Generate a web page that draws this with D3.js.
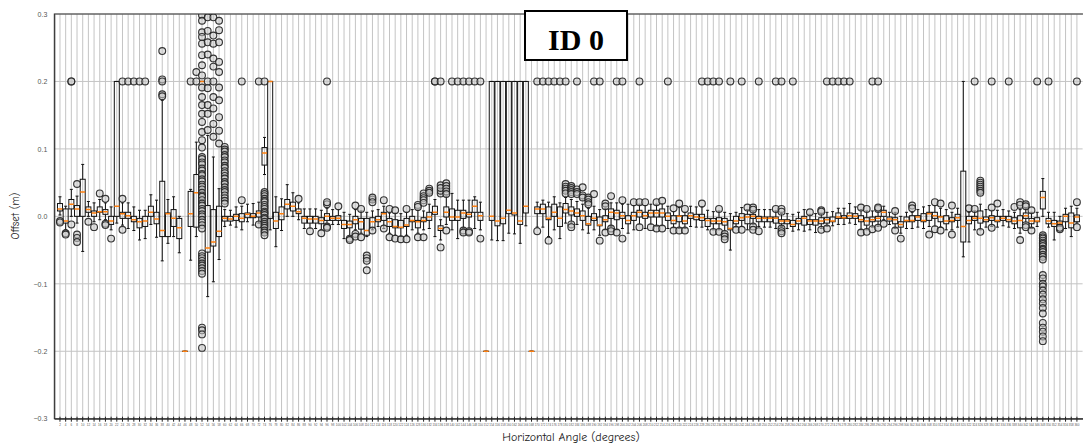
<!DOCTYPE html>
<html>
<head>
<meta charset="utf-8">
<script src="https://cdn.jsdelivr.net/npm/d3@7"></script>
<style>
  body { margin: 0; background: #fff; }
  svg { display: block; }
</style>
</head>
<body>
<svg id="chart" width="1083" height="444"></svg>
<script>
// Horizontal angle bins (degrees)
const angles = d3.range(2, 362, 2);

// Box statistics per angle bin (metres)
const whiskerLow = [
  0.002,-0.02,0.0,-0.01,-0.052,0.0,-0.008,-0.005,-0.005,-0.02,
  -0.01,-0.013,-0.018,-0.021,-0.035,-0.033,-0.012,-0.031,-0.066,-0.04,
  -0.03,-0.054,-0.2,-0.065,-0.03,0.2,-0.119,-0.097,-0.064,-0.015,
  -0.013,-0.016,-0.02,-0.008,-0.013,-0.01,0.062,-0.02,-0.045,-0.021,
  0.0,0.0,-0.005,-0.018,-0.018,-0.018,-0.02,-0.012,-0.012,-0.012,
  -0.033,-0.03,-0.02,-0.025,-0.03,-0.02,-0.015,-0.018,-0.025,-0.028,
  -0.03,-0.028,-0.02,-0.025,-0.02,-0.018,-0.03,-0.035,-0.012,-0.02,
  -0.033,-0.018,-0.02,-0.018,-0.02,-0.2,-0.035,-0.036,-0.036,-0.025,
  -0.026,-0.04,-0.014,-0.2,-0.016,-0.016,-0.03,-0.02,-0.033,-0.01,
  -0.01,-0.012,-0.02,-0.025,-0.02,-0.028,-0.02,-0.015,-0.02,-0.018,
  -0.025,-0.02,-0.012,-0.018,-0.012,-0.015,-0.014,-0.018,-0.017,-0.018,
  -0.018,-0.015,-0.016,-0.016,-0.02,-0.02,-0.02,-0.022,-0.05,-0.016,
  -0.015,-0.02,-0.012,-0.015,-0.016,-0.016,-0.018,-0.015,-0.018,-0.022,
  -0.02,-0.022,-0.02,-0.024,-0.018,-0.015,-0.014,-0.012,-0.012,-0.01,
  -0.012,-0.02,-0.02,-0.016,-0.015,-0.005,-0.012,-0.018,-0.025,-0.018,
  -0.018,-0.016,-0.018,-0.015,-0.015,-0.016,-0.02,-0.02,-0.016,-0.06,
  -0.038,-0.02,-0.02,-0.016,-0.015,-0.016,-0.014,-0.016,-0.018,-0.025,
  -0.01,-0.018,-0.015,0.0,-0.016,-0.035,-0.015,-0.018,-0.03,-0.01
];
const quartile1 = [
  0.008,-0.01,0.011,0.0,0.0,0.006,0.0,0.006,0.003,-0.012,
  0.0,-0.003,-0.003,-0.008,-0.017,-0.015,0.0,-0.011,-0.03,-0.03,
  -0.015,-0.033,-0.2,-0.015,-0.016,0.2,-0.053,-0.044,-0.03,-0.007,
  -0.007,-0.006,-0.008,-0.002,-0.002,-0.001,0.076,-0.003,-0.018,-0.005,
  0.011,0.008,0.004,-0.01,-0.01,-0.01,-0.011,-0.006,-0.006,-0.006,
  -0.018,-0.017,-0.011,-0.019,-0.028,-0.017,-0.008,-0.006,-0.015,-0.017,
  -0.017,-0.015,-0.008,-0.017,-0.008,-0.006,0.003,-0.021,-0.001,-0.006,
  -0.006,-0.003,-0.001,0.006,-0.006,-0.2,-0.006,-0.014,-0.011,0.004,
  0.002,-0.012,0.005,-0.2,0.004,0.004,-0.005,0.0,-0.015,0.005,
  0.002,0.0,-0.006,-0.013,-0.006,-0.014,-0.008,-0.003,-0.005,-0.003,
  -0.011,-0.006,-0.001,-0.003,-0.001,-0.001,-0.001,-0.006,-0.011,-0.008,
  -0.011,-0.003,-0.005,-0.006,-0.015,-0.011,-0.011,-0.013,-0.02,-0.011,
  -0.006,-0.011,-0.003,-0.008,-0.008,-0.008,-0.01,-0.011,-0.011,-0.015,
  -0.011,-0.013,-0.012,-0.013,-0.011,-0.01,-0.008,-0.003,-0.003,-0.003,
  -0.003,-0.008,-0.013,-0.008,-0.007,0.0,-0.007,-0.011,-0.016,-0.008,
  -0.008,-0.006,-0.008,-0.006,-0.003,-0.008,-0.011,-0.008,-0.006,-0.038,
  -0.011,-0.006,-0.01,-0.008,-0.006,-0.008,-0.006,-0.008,-0.011,-0.017,
  -0.003,-0.011,-0.008,0.011,-0.011,-0.015,-0.012,-0.008,-0.017,-0.008
];
const medians = [
  0.011,-0.007,0.018,0.011,0.036,0.01,0.005,0.007,0.007,-0.007,
  0.015,0.004,0.001,-0.005,-0.008,-0.007,0.006,-0.004,-0.021,0.004,
  -0.003,-0.017,-0.2,0.004,0.035,0.2,-0.047,-0.038,-0.022,-0.003,
  -0.004,0.0,-0.003,0.003,0.0,0.005,0.094,0.2,-0.007,0.004,
  0.018,0.015,0.007,-0.003,-0.004,-0.004,-0.006,0.0,-0.003,-0.003,
  -0.012,-0.012,-0.005,-0.008,-0.021,-0.008,-0.005,0.004,-0.008,-0.015,
  -0.016,-0.013,-0.006,-0.008,-0.006,-0.001,0.006,-0.018,0.006,-0.001,
  -0.001,0.005,0.003,0.015,0.001,-0.2,0.0,-0.007,-0.003,0.009,
  0.005,-0.007,0.015,-0.2,0.011,0.011,-0.003,0.006,-0.003,0.01,
  0.008,0.005,0.001,-0.011,-0.003,-0.013,-0.005,0.006,0.005,0.001,
  -0.006,0.001,0.006,0.001,0.005,0.005,0.005,0.0,-0.006,0.0,
  -0.007,0.001,-0.001,-0.002,-0.006,-0.007,-0.007,-0.008,-0.018,-0.007,
  -0.002,-0.001,0.0,-0.003,-0.003,-0.003,-0.003,-0.007,-0.007,-0.012,
  -0.007,-0.003,-0.007,-0.007,-0.007,-0.005,-0.007,-0.001,-0.002,0.001,
  0.0,-0.005,-0.007,-0.005,-0.003,0.006,-0.004,-0.005,-0.012,-0.006,
  -0.006,-0.001,-0.006,0.004,0.001,-0.001,-0.007,-0.006,-0.002,-0.015,
  -0.006,-0.003,-0.003,-0.005,-0.002,-0.006,-0.003,-0.005,-0.007,-0.006,
  0.001,-0.007,-0.007,0.028,-0.007,-0.011,-0.01,0.0,-0.01,-0.001
];
const quartile3 = [
  0.019,0.011,0.025,0.016,0.055,0.014,0.008,0.014,0.01,0.0,
  0.2,0.006,0.006,0.0,-0.003,0.0,0.015,0.006,0.052,0.005,
  0.01,-0.003,-0.2,0.037,0.062,0.2,0.016,0.01,0.015,0.0,
  0.0,0.003,0.004,0.005,0.004,0.008,0.102,0.2,0.006,0.014,
  0.025,0.021,0.011,0.0,0.0,0.0,-0.002,0.004,0.0,0.001,
  -0.006,-0.007,0.0,-0.003,-0.003,-0.002,0.0,0.006,-0.003,-0.005,
  -0.006,-0.003,0.0,-0.006,-0.002,0.006,0.015,-0.014,0.014,0.011,
  0.009,0.009,0.006,0.024,0.006,-0.2,0.2,0.2,0.2,0.2,
  0.2,0.2,0.2,-0.2,0.014,0.018,0.014,0.018,0.014,0.019,
  0.014,0.011,0.008,0.0,0.004,-0.001,0.001,0.011,0.009,0.006,
  0.001,0.006,0.009,0.006,0.009,0.009,0.011,0.005,0.001,0.001,
  0.001,0.005,0.003,0.003,-0.003,-0.003,-0.002,-0.003,-0.006,0.0,
  0.004,0.003,0.003,0.0,-0.001,-0.001,-0.001,-0.005,-0.005,-0.006,
  -0.003,0.0,-0.005,-0.005,-0.002,-0.002,-0.001,0.005,0.001,0.005,
  0.004,0.001,-0.002,-0.001,0.0,0.009,-0.001,-0.002,-0.008,-0.001,
  0.001,0.001,0.004,0.006,0.006,0.0,0.001,-0.002,0.003,0.067,
  0.0,0.0,0.008,-0.001,0.001,0.0,0.0,0.0,-0.002,0.001,
  0.005,-0.003,-0.002,0.037,-0.003,-0.006,-0.007,0.003,0.005,0.002
];
const whiskerHigh = [
  0.029,0.015,0.04,0.03,0.077,0.022,0.02,0.025,0.02,0.014,
  0.2,0.02,0.02,0.014,0.009,0.009,0.032,0.024,0.172,0.025,
  0.029,0.0,-0.2,0.04,0.11,0.2,0.12,0.088,0.041,0.01,
  0.009,0.014,0.015,0.018,0.019,0.021,0.117,0.2,0.029,0.026,
  0.047,0.035,0.02,0.011,0.011,0.011,0.009,0.012,0.01,0.01,
  0.006,0.003,0.01,0.008,0.006,0.008,0.01,0.015,0.005,0.005,
  0.004,0.006,0.01,0.009,0.008,0.018,0.025,-0.005,0.03,0.034,
  0.024,0.024,0.024,0.029,0.021,-0.2,0.2,0.2,0.2,0.2,
  0.2,0.2,0.2,-0.2,0.021,0.024,0.021,0.029,0.02,0.028,
  0.025,0.022,0.018,0.012,0.015,0.01,0.012,0.02,0.02,0.018,
  0.018,0.016,0.018,0.016,0.018,0.018,0.019,0.015,0.007,0.013,
  0.006,0.015,0.014,0.014,0.009,0.007,0.008,0.006,0.004,0.006,
  0.013,0.01,0.008,0.01,0.01,0.01,0.008,0.004,0.004,0.003,
  0.006,0.01,0.003,0.004,0.005,0.006,0.007,0.012,0.012,0.019,
  0.014,0.01,0.008,0.008,0.008,0.015,0.006,0.006,0.0,0.006,
  0.006,0.01,0.014,0.016,0.016,0.012,0.01,0.006,0.012,0.2,
  0.006,0.008,0.018,0.01,0.009,0.009,0.01,0.008,0.006,0.01,
  0.012,0.006,0.006,0.056,0.006,0.006,0.0,0.012,0.015,0.012
];

// Readings beyond the whiskers, by angle bin
const outliers = {
  2: [-0.007,-0.009], 4: [-0.025,-0.027], 6: [0.2,0.2,-0.012],
  8: [0.048,-0.027,-0.032,-0.038], 12: [-0.008], 14: [-0.016], 16: [0.034],
  18: [0.026,-0.011,-0.013], 20: [-0.033], 24: [0.2,0.026,-0.02],
  26: [0.2], 28: [0.2], 30: [0.2], 32: [0.2],
  38: [0.245,0.203,0.2,0.181,0.178],
  48: [0.2], 50: [0.2,0.214],
  52: [0.298,0.29,0.273,0.266,0.256,0.239,0.224,0.209,0.191,0.177,0.165,0.152,0.14,0.125,0.113,0.102,
       0.088,0.085,0.08,0.077,0.071,0.068,0.063,0.061,0.055,0.052,0.047,0.044,0.04,0.035,0.031,0.029,
       0.024,0.019,0.016,0.011,0.008,0.003,0.0,-0.005,-0.009,-0.013,-0.018,
       -0.055,-0.059,-0.062,-0.066,-0.07,-0.073,-0.077,-0.081,-0.085,-0.165,-0.169,-0.175,-0.195],
  54: [0.295,0.275,0.258,0.24,0.2,0.19,0.165,0.152,0.128],
  56: [0.295,0.268,0.256,0.234,0.222,0.2,0.177,0.16,0.137,0.118],
  58: [0.29,0.276,0.258,0.229,0.214,0.191,0.172,0.147,0.127,0.108],
  60: [0.103,0.099,0.096,0.091,0.088,0.083,0.08,0.075,0.072,0.067,0.064,0.06,0.056,0.051,0.048,0.043,0.039,0.036,0.031,0.027,0.023,0.019],
  66: [0.2,0.024], 72: [0.2,-0.012],
  74: [0.2,0.036,0.033,0.03,0.026,0.023,0.021,0.017,0.014,0.011,0.007,0.005,0.002,-0.002,-0.004,-0.008,-0.011,-0.014,-0.017,-0.021,-0.024,-0.028],
  86: [0.026], 90: [-0.022], 94: [-0.025], 96: [0.2,0.018,0.021,-0.015,-0.017],
  100: [0.015], 104: [-0.033,-0.035], 106: [0.016,-0.026,-0.03], 108: [0.011,-0.031],
  110: [-0.058,-0.062,-0.066,-0.08], 112: [0.025,0.028,0.021,-0.021], 116: [0.024,-0.018],
  118: [0.011,-0.031], 120: [0.009,-0.033], 122: [-0.034], 124: [0.011,-0.034],
  128: [0.017,0.014,-0.031], 130: [0.034,0.03,0.027,0.024,0.02,-0.031], 132: [0.041,0.038,0.035],
  134: [0.2,0.2], 136: [0.2,0.034,0.038,0.046,0.042,-0.046], 138: [0.049,0.045,0.041,0.037,0.033,-0.021],
  140: [0.2], 142: [0.2], 144: [0.2,-0.021,-0.024], 146: [0.2,-0.022,-0.024], 148: [0.2], 150: [0.2,-0.033],
  170: [0.2,-0.022], 172: [0.2], 174: [0.2,-0.036], 176: [0.2], 178: [0.2],
  180: [0.2,0.048,0.044,0.041,0.038,0.034], 182: [0.045,0.042,0.039,0.036,0.033,-0.012,-0.016],
  184: [0.2,0.04,0.036,0.033], 186: [0.043,0.031,0.028], 188: [0.028,0.025,0.021,0.018],
  190: [0.2,0.033], 192: [0.2,-0.036], 194: [0.019,0.015,-0.024], 196: [0.03,-0.018,-0.022],
  198: [0.2,-0.024], 200: [0.2,0.024,-0.033], 204: [0.021], 206: [0.2,0.021,-0.016], 208: [0.021],
  210: [-0.016], 212: [0.021,-0.018], 214: [0.023,-0.018], 216: [0.2], 218: [0.012,-0.021],
  220: [0.019,-0.021], 222: [0.011,-0.021], 228: [0.2,0.019], 230: [0.2], 232: [0.2,-0.023],
  234: [0.2,0.011,-0.023], 236: [-0.026,-0.03,-0.034], 238: [0.2], 240: [-0.02], 242: [0.2,-0.02],
  244: [0.013], 246: [0.013,0.01,-0.015,-0.02], 248: [0.2,-0.022], 254: [0.2,0.011],
  256: [0.2,0.011,0.007,-0.018,-0.022,-0.025], 260: [0.2], 266: [0.006], 270: [0.009,0.007,-0.02],
  272: [0.2,-0.018], 274: [0.2], 276: [0.2], 278: [0.2], 280: [0.2], 284: [0.013,-0.024],
  286: [0.011,-0.023], 288: [0.2,-0.019], 290: [0.2,0.011,0.013,-0.017], 292: [-0.011],
  296: [0.008,-0.021], 298: [-0.033], 302: [0.016,0.012], 308: [-0.027], 310: [0.021,-0.019],
  312: [0.019,-0.021], 316: [0.016,-0.027], 322: [0.012], 324: [0.2,0.011],
  326: [0.053,0.05,0.047,0.044,0.041,0.038,0.035,-0.023], 330: [0.2,0.013,-0.017], 332: [0.019],
  336: [0.2], 338: [0.014], 340: [0.021,0.017,-0.035], 342: [0.018,0.015,-0.013,-0.016],
  344: [0.009,-0.021], 346: [0.2],
  348: [-0.028,-0.031,-0.033,-0.036,-0.039,-0.041,-0.044,-0.048,-0.05,-0.053,-0.057,-0.06,-0.064,
        -0.087,-0.092,-0.1,-0.104,-0.11,-0.116,-0.123,-0.129,-0.136,-0.144,-0.158,-0.165,-0.171,-0.178,-0.185],
  350: [0.2], 354: [-0.019,-0.017], 360: [0.2,0.021,-0.016]
};

const yTicks = [-0.3, -0.2, -0.1, 0.0, 0.1, 0.2, 0.3];

const svg = d3.select("#chart");
const plot = { left: 54.3, right: 1082.6, top: 14, bottom: 418.7 };

const x = d3.scaleBand()
  .domain(angles)
  .range([plot.left, plot.right])
  .paddingInner(0)
  .paddingOuter(0.5);
const y = d3.scaleLinear().domain([-0.3, 0.3]).range([plot.bottom, plot.top]);
const cx = a => x(a) + x.bandwidth() / 2;

svg.append("rect").attr("width", 1083).attr("height", 444).attr("fill", "#fff");

svg.append("defs").append("clipPath").attr("id", "plot-clip")
  .append("rect")
  .attr("x", plot.left).attr("y", plot.top)
  .attr("width", plot.right - plot.left).attr("height", plot.bottom - plot.top);

// grid
const grid = svg.append("g").attr("class", "grid");
grid.selectAll("line.v").data(angles).join("line")
  .attr("class", "v")
  .attr("x1", cx).attr("x2", cx)
  .attr("y1", plot.top).attr("y2", plot.bottom)
  .attr("stroke", "#c4c4c4").attr("stroke-width", 1);
grid.selectAll("line.h").data(yTicks).join("line")
  .attr("class", "h")
  .attr("x1", plot.left).attr("x2", plot.right)
  .attr("y1", d => y(d)).attr("y2", d => y(d))
  .attr("stroke", "#c4c4c4").attr("stroke-width", 1);

// boxes
const stats = angles.map((a, i) => ({
  angle: a,
  lo: whiskerLow[i], q1: quartile1[i], med: medians[i], q3: quartile3[i], hi: whiskerHigh[i]
}));
const boxW = 5, capW = 3;
const boxes = svg.append("g").attr("clip-path", "url(#plot-clip)")
  .selectAll("g.box").data(stats).join("g").attr("class", "box");

boxes.append("line")
  .attr("x1", d => cx(d.angle)).attr("x2", d => cx(d.angle))
  .attr("y1", d => y(d.q3)).attr("y2", d => y(d.hi))
  .attr("stroke", "#111").attr("stroke-width", 1);
boxes.append("line")
  .attr("x1", d => cx(d.angle)).attr("x2", d => cx(d.angle))
  .attr("y1", d => y(d.q1)).attr("y2", d => y(d.lo))
  .attr("stroke", "#111").attr("stroke-width", 1);
boxes.append("line")
  .attr("x1", d => cx(d.angle) - capW / 2).attr("x2", d => cx(d.angle) + capW / 2)
  .attr("y1", d => y(d.hi)).attr("y2", d => y(d.hi))
  .attr("stroke", "#111").attr("stroke-width", 1);
boxes.append("line")
  .attr("x1", d => cx(d.angle) - capW / 2).attr("x2", d => cx(d.angle) + capW / 2)
  .attr("y1", d => y(d.lo)).attr("y2", d => y(d.lo))
  .attr("stroke", "#111").attr("stroke-width", 1);
boxes.append("rect")
  .attr("x", d => cx(d.angle) - boxW / 2)
  .attr("y", d => y(d.q3))
  .attr("width", boxW)
  .attr("height", d => Math.max(0.01, y(d.q1) - y(d.q3)))
  .attr("fill", "none").attr("stroke", "#111").attr("stroke-width", 1);
boxes.append("line")
  .attr("x1", d => cx(d.angle) - boxW / 2).attr("x2", d => cx(d.angle) + boxW / 2)
  .attr("y1", d => y(d.med)).attr("y2", d => y(d.med))
  .attr("stroke", "#ff7f0e").attr("stroke-width", 1.5);

// outliers
const fliers = [];
angles.forEach(a => (outliers[a] || []).forEach(v => fliers.push({ angle: a, value: v })));
svg.append("g").attr("clip-path", "url(#plot-clip)")
  .selectAll("circle").data(fliers).join("circle")
  .attr("cx", d => cx(d.angle)).attr("cy", d => y(d.value))
  .attr("r", 3.4)
  .attr("fill", "#c8c8c8").attr("fill-opacity", 0.55)
  .attr("stroke", "#222").attr("stroke-opacity", 0.9).attr("stroke-width", 1.15);

// frame
svg.append("rect")
  .attr("x", plot.left).attr("y", plot.top)
  .attr("width", plot.right - plot.left + 2).attr("height", plot.bottom - plot.top)
  .attr("fill", "none").attr("stroke", "#333").attr("stroke-width", 1);

// x axis
const xAxis = svg.append("g")
  .attr("transform", `translate(0,${plot.bottom})`)
  .call(d3.axisBottom(x).tickSize(3).tickSizeOuter(0).tickPadding(2));
xAxis.select(".domain").attr("stroke", "#333");
xAxis.selectAll(".tick line").attr("stroke", "#222").attr("y1", -2);
xAxis.selectAll(".tick text").attr("font-size", 3).attr("fill", "#555")
  .attr("font-family", "Liberation Sans, Arial, sans-serif");

// y axis
const yAxis = svg.append("g")
  .attr("transform", `translate(${plot.left},0)`)
  .call(d3.axisLeft(y).tickValues(yTicks).tickFormat(d3.format(".1f")).tickSize(0).tickPadding(7));
yAxis.select(".domain").attr("stroke", "#333");
yAxis.selectAll(".tick text").attr("font-size", 7).attr("fill", "#555")
  .attr("font-family", "Liberation Sans, Arial, sans-serif");

// axis titles
svg.append("text")
  .attr("x", 571).attr("y", 441)
  .attr("text-anchor", "middle")
  .attr("font-family", "Comic Sans MS, Comic Neue, Liberation Sans, sans-serif")
  .attr("font-size", 12).attr("fill", "#222")
  .text("Horizontal Angle (degrees)");
svg.append("text")
  .attr("transform", "translate(19,216) rotate(-90)")
  .attr("text-anchor", "middle")
  .attr("font-family", "Comic Sans MS, Comic Neue, Liberation Sans, sans-serif")
  .attr("font-size", 11).attr("fill", "#222")
  .text("Offset (m)");

// label box
svg.append("rect")
  .attr("x", 525).attr("y", 11).attr("width", 102).attr("height", 49)
  .attr("fill", "#fff").attr("stroke", "#000").attr("stroke-width", 2);
svg.append("text")
  .attr("x", 576).attr("y", 50)
  .attr("text-anchor", "middle")
  .attr("font-family", "Liberation Serif, Times New Roman, serif")
  .attr("font-weight", "bold").attr("font-size", 30).attr("fill", "#000")
  .text("ID 0");
</script>
</body>
</html>
